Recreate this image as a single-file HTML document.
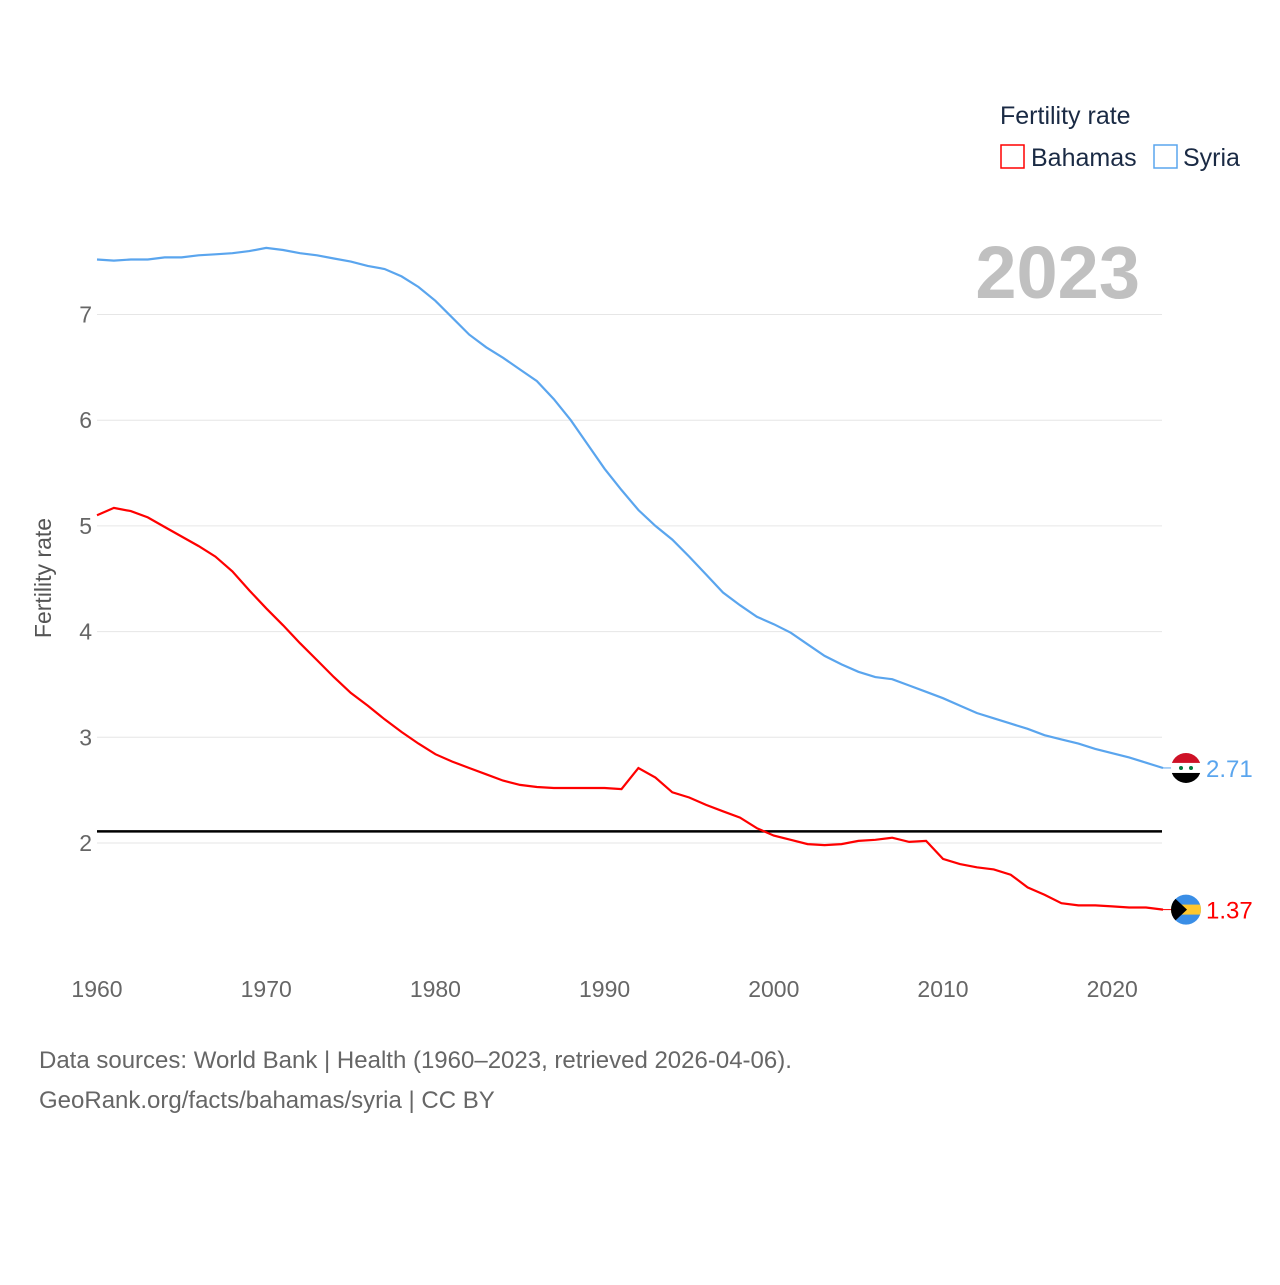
<!DOCTYPE html>
<html><head><meta charset="utf-8"><style>
body{margin:0;background:#fff;width:1280px;height:1280px;overflow:hidden;font-family:"Liberation Sans",sans-serif}
svg text{font-family:"Liberation Sans",sans-serif}
</style></head><body>
<svg id="chart" width="1280" height="1280">
<text x="1000" y="124" font-size="25" fill="#1a2a44">Fertility rate</text>
<g><rect x="1001" y="145" width="23" height="23" fill="none" stroke="#f00" stroke-width="1.5"/><text x="1031" y="166" font-size="25" fill="#1a2a44">Bahamas</text></g>
<g><rect x="1154" y="145" width="23" height="23" fill="none" stroke="#5aa5ee" stroke-width="1.5"/><text x="1183" y="166" font-size="25" fill="#1a2a44">Syria</text></g>
<text x="1140" y="298" font-size="74" font-weight="bold" fill="#c0c0c0" text-anchor="end">2023</text>
<text transform="translate(51,578) rotate(-90)" font-size="23" fill="#555" text-anchor="middle">Fertility rate</text>
<g id="grid"></g><g id="series"></g>
<text x="39" y="1068" font-size="24" fill="#666">Data sources: World Bank | Health (1960–2023, retrieved 2026-04-06).</text>
<text x="39" y="1108" font-size="24" fill="#666">GeoRank.org/facts/bahamas/syria | CC BY</text>
</svg>
<script>
const years=[];for(let y=1960;y<=2023;y++)years.push(y);
const syria=[7.52,7.51,7.52,7.52,7.54,7.54,7.56,7.57,7.58,7.60,7.63,7.61,7.58,7.56,7.53,7.50,7.46,7.43,7.36,7.26,7.13,6.97,6.81,6.69,6.59,6.48,6.37,6.20,6.00,5.77,5.54,5.34,5.15,5.00,4.87,4.71,4.54,4.37,4.25,4.14,4.07,3.99,3.88,3.77,3.69,3.62,3.57,3.55,3.49,3.43,3.37,3.30,3.23,3.18,3.13,3.08,3.02,2.98,2.94,2.89,2.85,2.81,2.76,2.71];
const bahamas=[5.10,5.17,5.14,5.08,4.99,4.90,4.81,4.71,4.57,4.39,4.22,4.06,3.89,3.73,3.57,3.42,3.30,3.17,3.05,2.94,2.84,2.77,2.71,2.65,2.59,2.55,2.53,2.52,2.52,2.52,2.52,2.51,2.71,2.62,2.48,2.43,2.36,2.30,2.24,2.14,2.07,2.03,1.99,1.98,1.99,2.02,2.03,2.05,2.01,2.02,1.85,1.80,1.77,1.75,1.70,1.58,1.51,1.43,1.41,1.41,1.40,1.39,1.39,1.37];
const yTicks=[2,3,4,5,6,7];
const xTicks=[1960,1970,1980,1990,2000,2010,2020];
const replacement=[2.11];
const NS="http://www.w3.org/2000/svg";
const X=y=>97+(y-1960)*16.92;
const Y=v=>843-(v-2)*105.7;
function mk(t,a,p){const e=document.createElementNS(NS,t);for(const k in a)e.setAttribute(k,a[k]);p.appendChild(e);return e;}
const g=document.getElementById('grid'),s=document.getElementById('series');
yTicks.forEach(v=>{
 const l=mk('line',{x1:97,x2:1162,y1:Y(v),y2:Y(v),stroke:'#e6e6e6','stroke-width':1},g);
 
 
 const t=mk('text',{x:92,y:Y(v)+8,'font-size':23,fill:'#666','text-anchor':'end'},g);t.textContent=v;
 
 
});
xTicks.forEach(v=>{
 const t=mk('text',{x:X(v),y:997,'font-size':23,fill:'#666','text-anchor':'middle'},g);t.textContent=v;
 
 
});
replacement.forEach(v=>{
 const l=mk('line',{x1:97,x2:1162,y1:Y(v),y2:Y(v),stroke:'#000','stroke-width':2.5},g);
 
 
});
function series(vals,col,name){
 const d=vals.map((v,i)=>(i?'L':'M')+X(years[i]).toFixed(1)+','+Y(v).toFixed(1)).join('');
 const p=mk('path',{d:d,fill:'none',stroke:col,'stroke-width':2.2},s);
 
 
 const last=vals[vals.length-1],ly=Y(last);
 mk('line',{x1:X(2023),x2:1172,y1:ly,y2:ly,stroke:col,'stroke-width':1},s);
 const t=mk('text',{x:1206,y:ly+9,'font-size':24,fill:col},s);t.textContent=last.toFixed(2);
 
 
 return ly;
}
const sy=series(syria,'#5aa5ee','syria');
const by=series(bahamas,'#f00','bahamas');
// flags
function flag(cy,name,draw){
 const cg=mk('g',{},s);
 
 
 const id='clip'+name;
 const cp=mk('clipPath',{id:id},cg);mk('circle',{cx:1186,cy:cy,r:15},cp);
 const inner=mk('g',{'clip-path':'url(#'+id+')'},cg);draw(inner,cy);
}
flag(sy,'syria',(p,cy)=>{
 mk('rect',{x:1170,y:cy-16,width:32,height:11,fill:'#ce1126'},p);
 mk('rect',{x:1170,y:cy-5,width:32,height:10,fill:'#fff'},p);
 mk('rect',{x:1170,y:cy+5,width:32,height:11,fill:'#000'},p);
 mk('circle',{cx:1181,cy:cy,r:2,fill:'#007a3d'},p);mk('circle',{cx:1191,cy:cy,r:2,fill:'#007a3d'},p);
});
flag(by,'bahamas',(p,cy)=>{
 mk('rect',{x:1170,y:cy-16,width:32,height:32,fill:'#3a8ee6'},p);
 mk('rect',{x:1170,y:cy-5,width:32,height:10,fill:'#ffc72c'},p);
 mk('polygon',{points:`1171,${cy-15} 1187,${cy} 1171,${cy+15}`,fill:'#000'},p);
});
</script>
</body></html>
